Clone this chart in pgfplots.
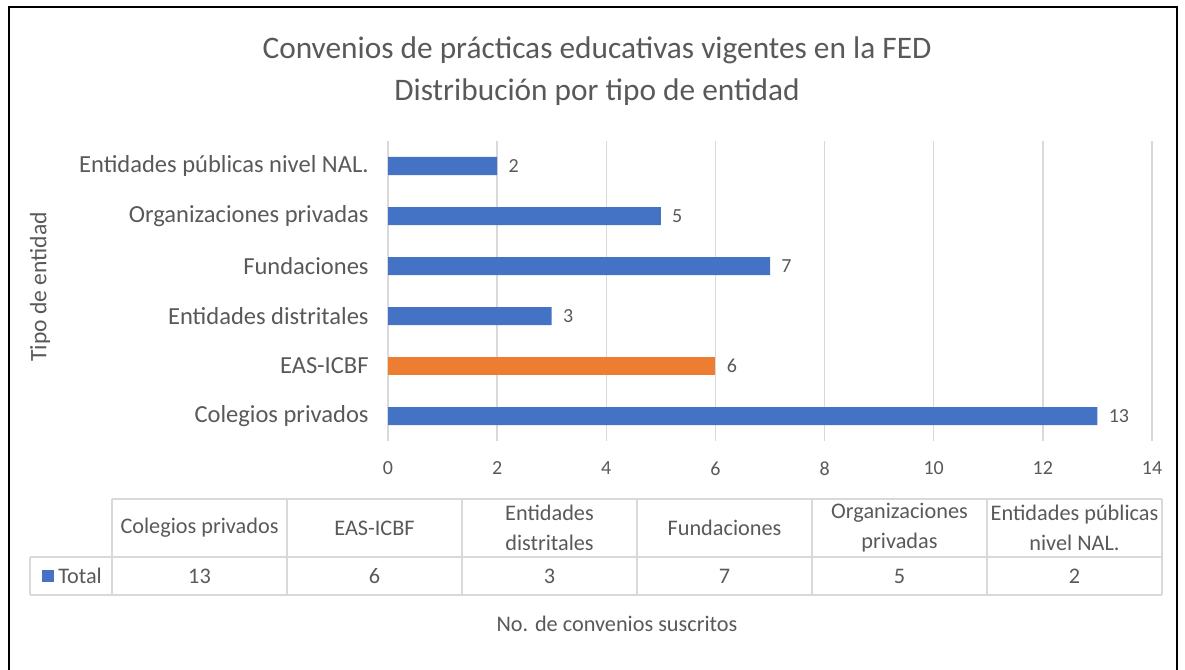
\documentclass[border=0pt]{standalone}
\usepackage{pgfplots}
\pgfplotsset{compat=1.18}
\usepackage{pgfplotstable}
\usepackage{fontspec}
\setmainfont{Carlito}

\definecolor{xlblue}{HTML}{4472C4}
\definecolor{xlorange}{HTML}{ED7D31}
\definecolor{txtgray}{HTML}{595959}
\definecolor{gridgray}{HTML}{D9D9D9}

% position (0 = bottom) and number of agreements
\pgfplotstableread[col sep=comma]{
pos,value
0,13
2,3
3,7
4,5
5,2
}\bluebars
\pgfplotstableread[col sep=comma]{
pos,value
1,6
}\orangebars

\begin{document}
\begin{tikzpicture}
% page = 1185 x 669 px, 1 px = 0.75pt
\useasboundingbox (0,0) rectangle (888.75pt,501.75pt);

\begin{axis}[
    at={(291pt,171pt)}, anchor=south west,
    scale only axis, width=573pt, height=225pt,
    xmin=0, xmax=14, ymin=-0.5, ymax=5.5,
    xtick={0,2,...,14},
    ytick={0,...,5},
    yticklabels={Colegios privados, EAS-ICBF, Entidades distritales, Fundaciones, Organizaciones privadas, Entidades públicas nivel NAL.},
    axis line style={draw=none},
    major tick length=0pt,
    xmajorgrids,
    major grid style={gridgray, line width=1.1pt},
    xbar, bar width=13.5pt, bar shift=0pt,
    /pgf/number format/assume math mode=true,
    xticklabel style={font=\fontsize{15}{17}\selectfont, text=txtgray, yshift=-12pt},
    yticklabel style={font=\fontsize{18.4}{22}\selectfont, text=txtgray, xshift=-11pt},
    nodes near coords,
    point meta=x,
    nodes near coords style={font=\fontsize{15}{17}\selectfont, text=txtgray, xshift=5pt},
]
\addplot[xbar, bar shift=0pt, fill=xlblue, draw=none] table[x=value, y=pos] {\bluebars};
\addplot[xbar, bar shift=0pt, fill=xlorange, draw=none] table[x=value, y=pos] {\orangebars};
\end{axis}

\begin{scope}[x=0.75pt,y=-0.75pt,yshift=501.75pt]
  % outer frame
  \draw[black, line width=1.8pt] (9,690) -- (9,7) -- (1177,7) -- (1177,690);
  % title
  \node[align=center, text=txtgray, font=\fontsize{23.5}{31.5}\selectfont] at (597,71)
    {Convenios de prácticas educativas vigentes en la FED\\Distribución por tipo de entidad};
  % y label
  \node[rotate=90, text=txtgray, font=\fontsize{17.7}{21}\selectfont] at (40,287) {Tipo de entidad};

  % data table
  \begin{scope}[gridgray, line width=1.2pt]
    \draw (112,499) -- (1162,499);
    \draw (30,557) -- (1162,557);
    \draw (30,595) -- (1162,595);
    \draw (30,557) -- (30,595);
    \foreach \x in {112,287,462,637,812,987,1162} \draw (\x,499) -- (\x,595);
  \end{scope}
  \begin{scope}[every node/.style={text=txtgray, align=center, font=\fontsize{16.7}{22.5}\selectfont}]
    \foreach \lab [count=\i from 0] in {Colegios privados, EAS-ICBF, Entidades\\distritales, Fundaciones, Organizaciones\\privadas, Entidades públicas\\nivel NAL.}
      \node at (199.5+175*\i,528) {\lab};
    \foreach \v [count=\i from 0] in {13,6,3,7,5,2}
      \node at (199.5+175*\i,576) {\v};
    \fill[xlblue] (42,570) rectangle (54,582);
    \node[anchor=west, inner sep=0pt] at (58,576) {Total};
    \node at (617,624) {No. de convenios suscritos};
  \end{scope}
\end{scope}
\end{tikzpicture}
\end{document}
